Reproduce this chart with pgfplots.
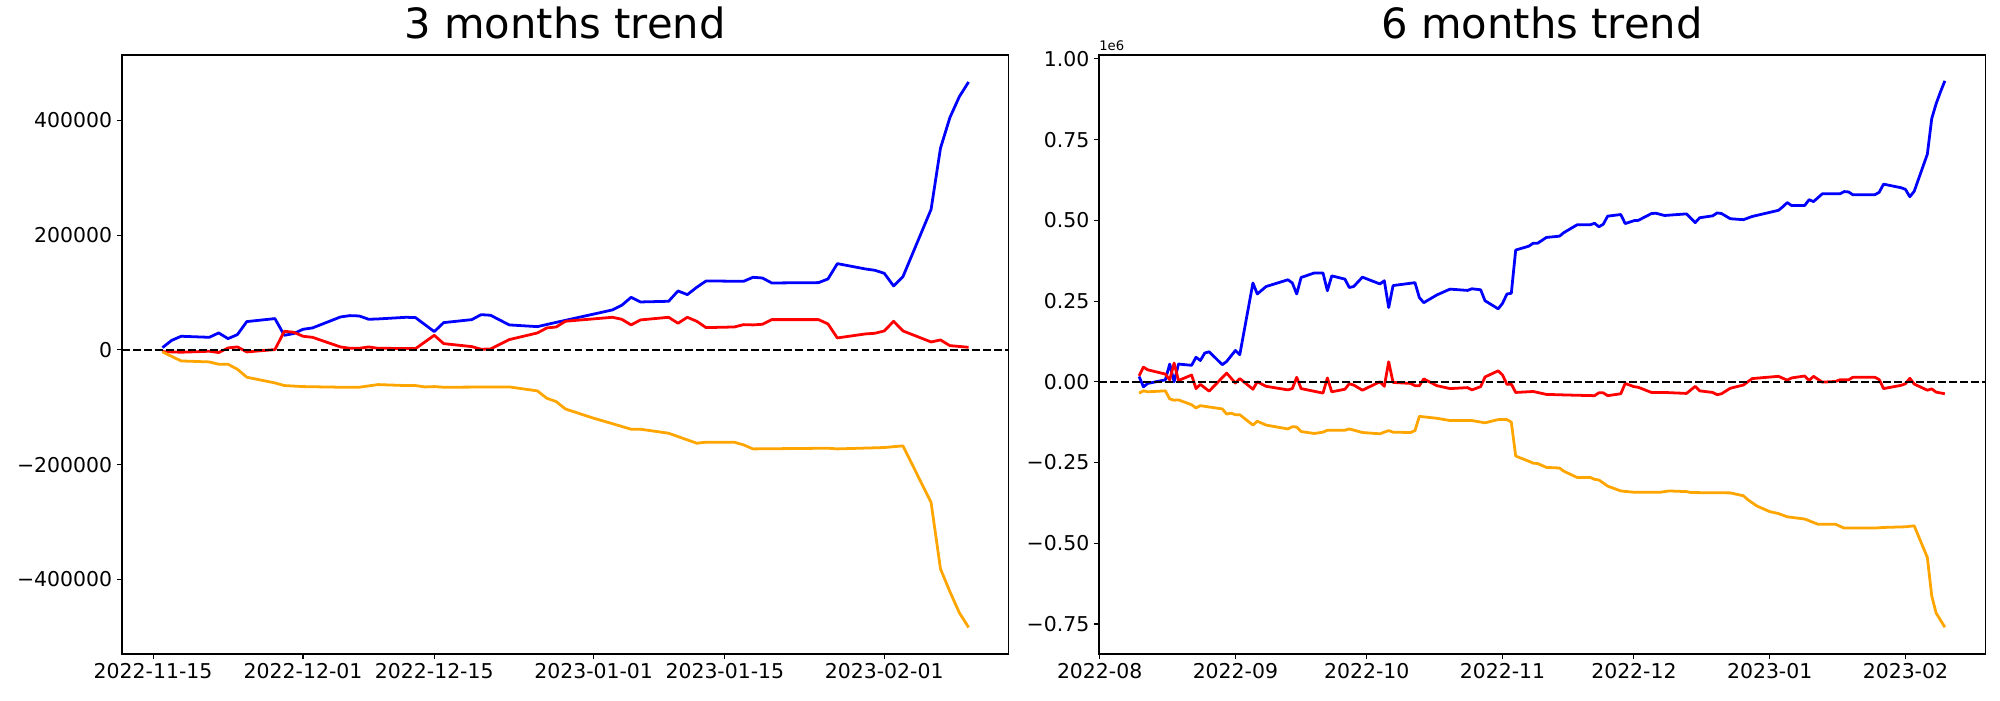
\documentclass[border=0pt]{standalone}
\usepackage{fontspec}
\setmainfont{DejaVu Sans}
\usepackage{pgfplots}
\pgfplotsset{compat=1.18}
\definecolor{mplblue}{RGB}{0,0,255}
\definecolor{mplred}{RGB}{255,0,0}
\definecolor{mplorange}{RGB}{255,165,0}

\pgfplotsset{mystyle/.style={
  scale only axis, width=638pt, height=431.3pt,
  anchor=south west,
  axis line style={line width=0.8pt},
  tick align=outside, major tick length=3.5pt,
  every tick/.style={black, line width=0.8pt},
  tick label style={font=\fontsize{14.7}{17}\selectfont},
  /pgf/number format/assume math mode=true,
  xtick pos=lower, ytick pos=left,
  scaled ticks=false,
  clip mode=individual,
  title style={font=\fontsize{30}{36}\selectfont, anchor=base, at={(0.5,1)}, yshift=6pt},
  every axis plot/.append style={line width=2pt, line join=round, mark=none},
  enlargelimits=false,
}}

\begin{document}
\begin{tikzpicture}
\path[use as bounding box] (0,0) rectangle (1440pt,504pt);

\begin{axis}[mystyle, at={(87.8pt,33.1pt)},
  title={3 months trend},
  xmin=-3.32, xmax=91.21, ymin=-530000, ymax=514000,
  xtick={0,16,30,47,61,78},
  xticklabels={2022-11-15,2022-12-01,2022-12-15,2023-01-01,2023-01-15,2023-02-01},
  ytick={-400000,-200000,0,200000,400000},
  yticklabels={−400000,−200000,0,200000,400000},
]
\addplot[mplblue] coordinates {
(1,4000) (2,16800) (3,23800) (6,22000) (7,29600) (8,19700) (9,26700) (10,49400)
(13,54600) (14,25500) (15,28500) (16,36000) (17,38300) (20,57500) (21,59800)
(22,59200) (23,53400) (24,54000) (27,56900) (28,56300) (30,31900) (31,47600)
(34,52800) (35,61500) (36,60400) (38,43600) (41,40600) (43,48000) (49,69700)
(50,77800) (51,91700) (52,83600) (55,84800) (56,102800) (57,96400) (58,109200)
(59,120200) (63,119600) (64,126600) (65,125400) (66,116700) (71,117300)
(72,123700) (73,150400) (76,141100) (77,138800) (78,133600) (79,111500)
(80,127800) (83,245000) (84,351600) (85,404700) (86,441000) (87,467000)
};
\addplot[mplred] coordinates {
(1,-2900) (3,-4000) (6,-2300) (7,-4600) (8,3500) (9,5200) (10,-3500) (13,600)
(14,32500) (15,30800) (16,23800) (17,22000) (20,5200) (21,2900) (22,2900)
(23,5200) (24,2900) (28,2300) (30,25500) (31,11000) (34,5800) (35,1200)
(36,1700) (38,18000) (41,29600) (42,38300) (43,40000) (44,50000) (49,56900)
(50,53400) (51,43600) (52,52300) (55,56900) (56,46500) (57,56900) (58,49900)
(59,38900) (62,40000) (63,44100) (64,43600) (65,44700) (66,52800) (71,52800)
(72,45300) (73,20900) (76,27900) (77,29000) (78,33100) (79,49900) (80,33100)
(83,13900) (84,17400) (85,7500) (87,4600)
};
\addplot[mplorange] coordinates {
(1,-3500) (3,-19200) (6,-20900) (7,-25000) (8,-25000) (9,-33700) (10,-47600)
(13,-57500) (14,-62100) (16,-63900) (20,-65000) (22,-65000) (24,-60400)
(27,-62100) (28,-62100) (29,-64500) (30,-63900) (31,-65000) (38,-64500)
(41,-71400) (42,-84200) (43,-90000) (44,-103000) (47,-119000) (49,-128500)
(51,-138200) (52,-138200) (55,-145200) (58,-162600) (59,-160800) (62,-160800)
(63,-165500) (64,-172500) (72,-171300) (73,-172500) (78,-170100) (80,-167200)
(83,-266000) (84,-381500) (85,-421000) (86,-457600) (87,-483700)
};
\addplot[black, line width=1.5pt, dash pattern=on 5.55pt off 2.4pt] coordinates {(-3.32,0) (91.21,0)};
\end{axis}

\begin{axis}[mystyle, at={(791.3pt,33.1pt)},
  title={6 months trend},
  xmin=-0.14, xmax=202.2, ymin=-0.843, ymax=1.012,
  xtick={0,31,61,92,122,153,184},
  xticklabels={2022-08,2022-09,2022-10,2022-11,2022-12,2023-01,2023-02},
  ytick={-0.75,-0.5,-0.25,0,0.25,0.5,0.75,1.0},
  yticklabels={−0.75,−0.50,−0.25,0.00,0.25,0.50,0.75,1.00},
]
\addplot[mplblue] coordinates {
(9,0.0165) (10,-0.0155) (11,-0.005) (15,0.006) (16,0.055) (17,0.0) (18,0.055)
(21,0.051) (22,0.076) (23,0.066) (24,0.089) (25,0.093) (28,0.053) (29,0.063)
(31,0.097) (32,0.084) (35,0.306) (36,0.272) (38,0.295) (43,0.316) (44,0.306)
(45,0.272) (46,0.323) (49,0.337) (51,0.337) (52,0.282) (53,0.328) (56,0.318)
(57,0.292) (58,0.295) (60,0.324) (64,0.303) (65,0.313) (66,0.230) (67,0.298)
(72,0.307) (73,0.261) (74,0.245) (77,0.269) (80,0.287) (84,0.283) (85,0.288)
(87,0.285) (88,0.251) (91,0.226) (92,0.243) (93,0.272) (94,0.274) (95,0.408)
(98,0.420) (99,0.429) (100,0.429) (102,0.447) (105,0.451) (106,0.462)
(109,0.486) (112,0.486) (113,0.491) (114,0.480) (115,0.488) (116,0.513)
(119,0.518) (120,0.490) (122,0.499) (123,0.500) (126,0.521) (127,0.522)
(129,0.515) (134,0.520) (136,0.493) (137,0.508) (140,0.514) (141,0.523)
(142,0.521) (144,0.505) (147,0.502) (149,0.512) (155,0.531) (156,0.542)
(157,0.555) (158,0.546) (161,0.546) (162,0.564) (163,0.558) (165,0.582)
(169,0.582) (170,0.589) (171,0.588) (172,0.579) (177,0.579) (178,0.587)
(179,0.612) (183,0.601) (184,0.596) (185,0.573) (186,0.590) (189,0.705)
(190,0.815) (191,0.861) (192,0.898) (193,0.932)
};
\addplot[mplred] coordinates {
(9,0.0186) (10,0.0455) (11,0.037) (15,0.024) (16,0.006) (17,0.058) (18,0.004)
(21,0.021) (22,-0.021) (23,-0.008) (25,-0.029) (29,0.027) (31,-0.004)
(32,0.010) (35,-0.023) (36,0.0) (38,-0.014) (43,-0.025) (44,-0.021) (45,0.014)
(46,-0.021) (51,-0.035) (52,0.012) (53,-0.031) (56,-0.023) (57,-0.006)
(58,-0.010) (60,-0.026) (64,0.0) (65,-0.014) (66,0.062) (67,-0.002)
(71,-0.005) (72,-0.012) (73,-0.012) (74,0.009) (77,-0.012) (80,-0.021)
(84,-0.018) (85,-0.025) (87,-0.015) (88,0.015) (91,0.034) (92,0.021)
(93,-0.008) (94,-0.007) (95,-0.033) (99,-0.030) (102,-0.039) (107,-0.041)
(113,-0.043) (114,-0.034) (115,-0.034) (116,-0.043) (119,-0.037) (120,-0.005)
(122,-0.015) (123,-0.017) (126,-0.033) (129,-0.033) (134,-0.036) (136,-0.014)
(137,-0.028) (140,-0.033) (141,-0.040) (142,-0.037) (144,-0.020) (147,-0.010)
(149,0.010) (155,0.017) (157,0.005) (158,0.012) (161,0.018) (162,0.004)
(163,0.017) (165,-0.001) (168,0.001) (169,0.006) (171,0.006) (172,0.014)
(177,0.014) (178,0.007) (179,-0.021) (183,-0.011) (184,-0.006) (185,0.011)
(186,-0.007) (189,-0.026) (190,-0.022) (191,-0.032) (193,-0.037)
};
\addplot[mplorange] coordinates {
(9,-0.035) (10,-0.028) (11,-0.031) (15,-0.028) (16,-0.053) (17,-0.057)
(18,-0.056) (21,-0.071) (22,-0.081) (23,-0.074) (28,-0.084) (29,-0.100)
(30,-0.097) (31,-0.102) (32,-0.102) (35,-0.134) (36,-0.122) (38,-0.134)
(43,-0.146) (44,-0.139) (45,-0.140) (46,-0.154) (49,-0.160) (51,-0.156)
(52,-0.150) (56,-0.150) (57,-0.146) (60,-0.157) (64,-0.161) (66,-0.151)
(67,-0.156) (71,-0.157) (72,-0.151) (73,-0.107) (77,-0.113) (80,-0.120)
(85,-0.120) (88,-0.127) (91,-0.117) (93,-0.117) (94,-0.125) (95,-0.230)
(98,-0.246) (99,-0.252) (100,-0.253) (102,-0.265) (105,-0.267) (106,-0.277)
(109,-0.296) (112,-0.296) (113,-0.302) (114,-0.304) (116,-0.323) (119,-0.338)
(122,-0.342) (128,-0.342) (130,-0.338) (134,-0.340) (135,-0.343) (144,-0.344)
(147,-0.353) (148,-0.365) (150,-0.384) (153,-0.402) (155,-0.408) (157,-0.418)
(161,-0.425) (164,-0.441) (168,-0.441) (170,-0.453) (177,-0.453) (179,-0.451)
(184,-0.449) (186,-0.446) (189,-0.544) (190,-0.663) (191,-0.716) (193,-0.760)
};
\addplot[black, line width=1.5pt, dash pattern=on 5.55pt off 2.4pt] coordinates {(-0.14,0) (202.2,0)};
\node[anchor=south west, inner sep=0pt, font=\fontsize{9.5}{11}\selectfont] at (rel axis cs:0,1) [yshift=3pt] {1e6};
\end{axis}
\end{tikzpicture}
\end{document}
